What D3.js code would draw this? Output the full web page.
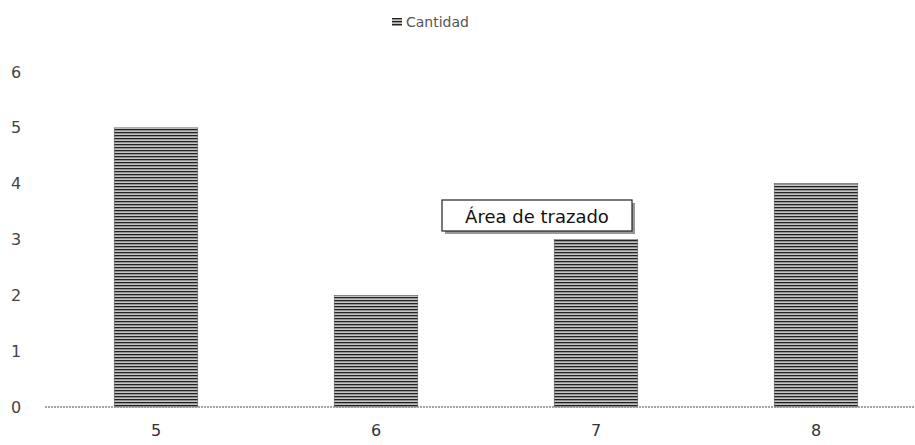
<!DOCTYPE html>
<html>
<head>
<meta charset="utf-8">
<script src="https://cdn.jsdelivr.net/npm/d3@7"></script>
<style>
  body { margin: 0; background: #fff; }
</style>
</head>
<body>
<div id="chart"></div>
<script>
// data
var categories = ["5", "6", "7", "8"];
var cantidad = [5, 2, 3, 4];
var yTicks = [0, 1, 2, 3, 4, 5, 6];

var W = 915, H = 445;
var svg = d3.select("#chart").append("svg")
    .attr("width", W)
    .attr("height", H);

// striped fill like the scanned bars
var defs = svg.append("defs");
var pat = defs.append("pattern")
    .attr("id", "stripes")
    .attr("patternUnits", "userSpaceOnUse")
    .attr("width", 8).attr("height", 3);
pat.append("rect").attr("width", 8).attr("height", 3).attr("fill", "#c4c4c4");
pat.append("rect").attr("width", 8).attr("height", 1.3).attr("fill", "#222");

var x = d3.scaleBand()
    .domain(categories)
    .range([46, 926])
    .paddingInner(0.62)
    .paddingOuter(0.31);

var y = d3.scaleLinear()
    .domain([0, 6])
    .range([407, 72]);

// y axis labels
svg.append("g")
    .attr("transform", "translate(16,0)")
    .style("font-family", "DejaVu Sans")
    .style("font-size", "16px")
    .call(d3.axisLeft(y).tickValues(yTicks).tickFormat(d3.format("d")).tickSize(0).tickPadding(0))
    .call(function(g) { g.select(".domain").remove(); })
    .selectAll("text").attr("fill", "#444").attr("text-anchor", "middle");

// bars
svg.selectAll(".bar")
    .data(cantidad)
    .enter()
    .append("rect")
    .attr("class", "bar")
    .attr("x", function(d, i) { return x(categories[i]); })
    .attr("y", function(d) { return y(d); })
    .attr("width", x.bandwidth())
    .attr("height", function(d) { return y(0) - y(d); })
    .attr("fill", "url(#stripes)")
    .attr("stroke", "#555")
    .attr("stroke-width", 0.5);

// baseline
svg.append("line")
    .attr("x1", 45).attr("x2", W)
    .attr("y1", y(0)).attr("y2", y(0))
    .attr("stroke", "#888")
    .attr("stroke-width", 1.5)
    .attr("stroke-dasharray", "2,1");

// x axis labels
svg.append("g")
    .attr("transform", "translate(0," + (y(0) + 18) + ")")
    .style("font-family", "DejaVu Sans")
    .style("font-size", "16px")
    .call(d3.axisBottom(x).tickSize(0).tickPadding(0))
    .call(function(g) { g.select(".domain").remove(); })
    .selectAll("text").attr("fill", "#333");

// legend
var leg = svg.append("g").attr("transform", "translate(392,15)");
leg.append("rect").attr("width", 10).attr("height", 8).attr("y", 3).attr("fill", "url(#stripes)");
leg.append("text")
    .attr("x", 14).attr("y", 12)
    .style("font-family", "DejaVu Sans")
    .style("font-size", "14px")
    .attr("fill", "#555")
    .text("Cantidad");

// "Área de trazado" tooltip box
var tip = svg.append("g").attr("transform", "translate(442,200)");
tip.append("rect").attr("x", 3).attr("y", 3).attr("width", 190).attr("height", 31).attr("fill", "#999");
tip.append("rect").attr("width", 190).attr("height", 31)
    .attr("fill", "#fff").attr("stroke", "#222").attr("stroke-width", 1.2);
tip.append("text")
    .attr("x", 95).attr("y", 23)
    .attr("text-anchor", "middle")
    .style("font-family", "DejaVu Sans")
    .style("font-size", "18px")
    .attr("fill", "#111")
    .text("Área de trazado");
</script>
</body>
</html>
